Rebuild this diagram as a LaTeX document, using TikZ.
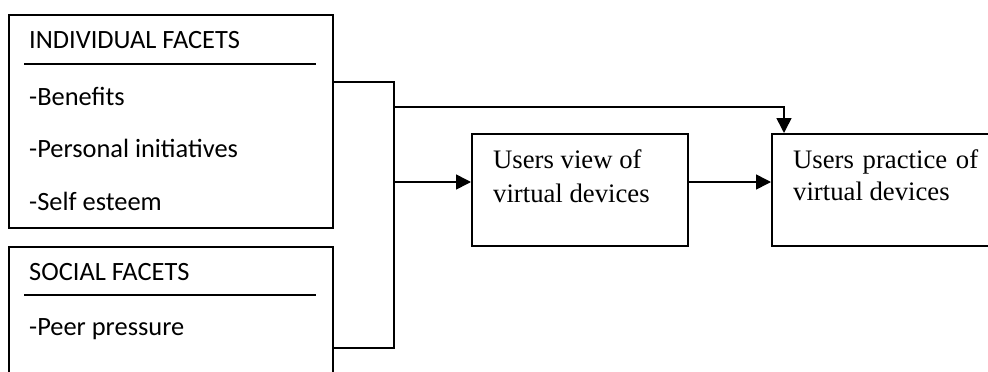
\documentclass[tikz,border=0pt]{standalone}
\usepackage{fontspec}
\setmainfont{Liberation Serif}
\newfontfamily\calib{Carlito}
\usetikzlibrary{arrows.meta}
\tikzset{
  box/.style={draw, line width=1.6pt, rectangle, inner sep=0pt, anchor=north west},
  conn/.style={line width=1.6pt},
  arr/.style={line width=1.6pt, -{Triangle[length=15pt,width=15pt]}},
  ltxt/.style={anchor=base west, inner sep=0pt, font=\calib\fontsize{26.4pt}{30pt}\selectfont},
  rtxt/.style={anchor=base west, inner sep=0pt, font=\fontsize{26.7pt}{32pt}\selectfont},
  rule/.style={line width=2.6pt}
}
\begin{document}
\begin{tikzpicture}[x=1pt,y=-1pt]
\useasboundingbox (0,0) rectangle (988,372);
\clip (0,0) rectangle (988,372);
% boxes
\node[box, minimum width=324pt, minimum height=213pt] (ind) at (8,14) {};
\node[box, minimum width=324pt, minimum height=160pt] (soc) at (8,246) {};
\node[box, minimum width=216pt, minimum height=112pt] (view) at (471,133) {};
\node[box, minimum width=260pt, minimum height=112pt] (prac) at (771,133) {};
% left texts
\node[ltxt] (t1) at (29,48) {INDIVIDUAL FACETS};
\coordinate (r1a) at (24,64); \coordinate (r1b) at (316,64);
\draw[rule] (r1a) -- (r1b);
\node[ltxt] (t2) at (29,105) {-Benefits};
\node[ltxt] (t3) at (29,157) {-Personal initiatives};
\node[ltxt] (t4) at (29,210) {-Self esteem};
\node[ltxt] (t5) at (29,280) {SOCIAL FACETS};
\coordinate (r2a) at (24,295); \coordinate (r2b) at (316,295);
\draw[rule] (r2a) -- (r2b);
\node[ltxt] (t6) at (29,335) {-Peer pressure};
% right texts
\node[rtxt] (v1) at (493,168) {Users view of};
\node[rtxt] (v2) at (493,202) {virtual devices};
\node[rtxt] (p1) at (793,168) {\makebox[185pt][s]{Users practice of}};
\node[rtxt] (p2) at (793,200) {virtual devices};
% connectors
\coordinate (b1) at (394,82);
\coordinate (b2) at (394,348);
\draw[conn] (b1 -| ind.east) -- (b1) -- (b2) -- (b2 -| soc.east);
\coordinate (tt) at (394,107);
\coordinate (tp) at (784,107);
\draw[arr] (tt) -- (tp) -- (tp |- prac.north);
\coordinate (m) at (394,182);
\draw[arr] (m) -- (m -| view.west);
\draw[arr] (m -| view.east) -- (m -| prac.west);
\end{tikzpicture}
\end{document}
